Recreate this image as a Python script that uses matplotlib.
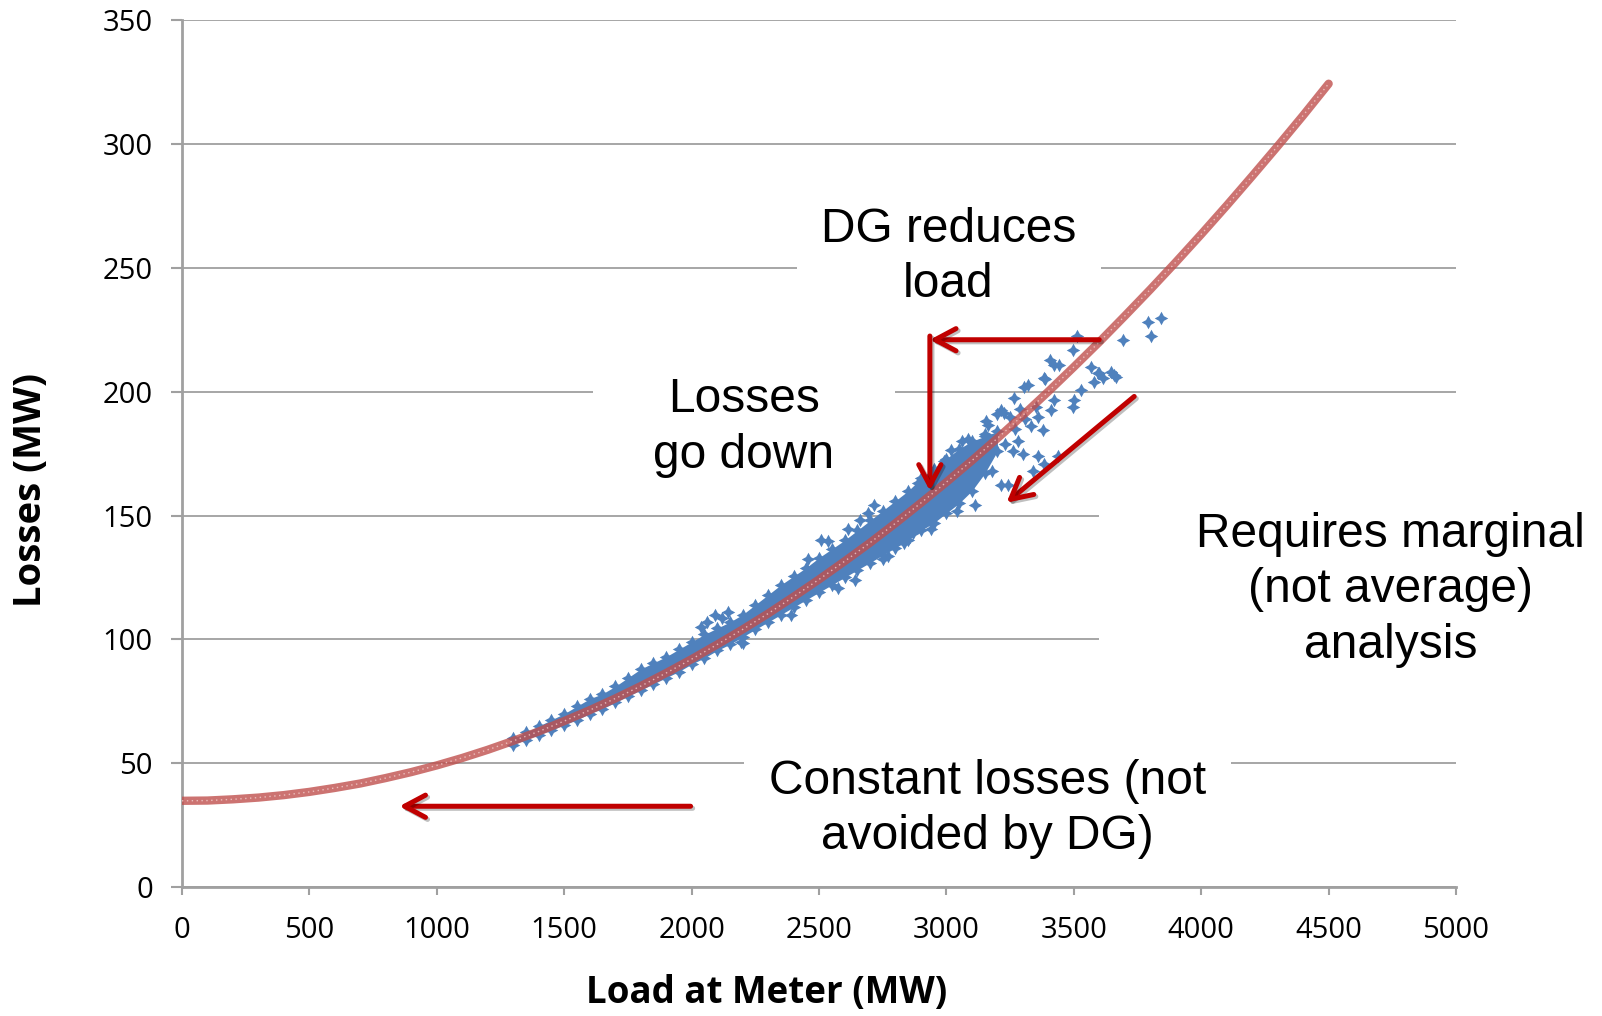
import numpy as np
import matplotlib
matplotlib.use("Agg")
import matplotlib.pyplot as plt
from matplotlib.patches import Rectangle
import matplotlib.patheffects as pe

# ===== DATA =====
# fitted losses curve (red), read every 100 MW
curve_x = [0, 100, 200, 300, 400, 500, 600, 700, 800, 900,
           1000, 1100, 1200, 1300, 1400, 1500, 1600, 1700, 1800, 1900,
           2000, 2100, 2200, 2300, 2400, 2500, 2600, 2700, 2800, 2900,
           3000, 3100, 3200, 3300, 3400, 3500, 3600, 3700, 3800, 3900,
           4000, 4100, 4200, 4300, 4400, 4500]
curve_y = [34.8, 34.9, 35.4, 36.1, 37.1, 38.4, 40.0, 41.8, 44.0, 46.4,
           49.1, 52.1, 55.4, 59.0, 62.8, 67.0, 71.4, 76.1, 81.1, 86.4,
           92.0, 97.9, 104.0, 110.4, 117.2, 124.2, 131.5, 139.0, 146.9, 155.1,
           163.5, 172.2, 181.2, 190.5, 200.1, 210.0, 220.1, 230.6, 241.3, 252.3,
           263.6, 275.2, 287.1, 299.2, 311.6, 324.4]

# dense part of the metered scatter (blue): lower / upper envelope
band_x = [1300, 1350, 1400, 1450, 1500, 1550, 1600, 1650, 1700, 1750, 1800,
          1850, 1900, 1950, 2000, 2050, 2100, 2150, 2200, 2250, 2300, 2350,
          2400, 2450, 2500, 2550, 2600, 2650, 2700, 2750, 2800, 2850, 2900,
          2950, 3000, 3050, 3100, 3150, 3200]
band_lo = [57.5, 59.5, 61.5, 63.3, 65.5, 67.5, 70.0, 72.0, 74.5, 77.0, 79.5,
           82.0, 84.5, 87.0, 90.0, 92.5, 95.5, 98.0, 101.0, 104.0, 107.0, 110.0,
           113.0, 116.0, 119.0, 122.0, 125.0, 128.0, 131.0, 134.0, 137.0, 140.0, 144.0,
           147.0, 151.0, 155.0, 160.0, 167.0, 176.0]
band_hi = [60.0, 62.5, 65.0, 67.5, 70.0, 73.0, 76.0, 78.0, 81.0, 84.5, 88.0,
           90.5, 93.0, 96.0, 99.0, 102.0, 104.5, 107.0, 110.0, 114.0, 118.0, 122.0,
           125.5, 129.0, 133.0, 136.5, 140.0, 144.0, 148.0, 152.0, 156.0, 160.0, 165.0,
           169.0, 173.0, 177.0, 180.0, 182.0, 184.0]

# scattered hours outside the dense band
out_x = [3842, 3790, 3803, 3692, 3513, 3496, 3408, 3443, 3568, 3594, 3613,
         3580, 3659, 3385, 3319, 3528, 3502, 3496, 3267, 3424, 3411, 3358,
         3378, 3332, 3227, 3155, 3437, 3384, 3339, 3214, 3240, 3112, 2940,
         2508, 2534, 2456, 2613, 2691, 2717, 2770, 2750, 2573, 2390, 2200,
         2946, 2835, 2037, 2060, 2090, 2120, 2143, 2194, 3646, 3666, 3600,
         3083, 3018, 3162, 3214, 3305, 3384, 3423, 3358, 3300, 3280,
         3250, 3270, 3290, 3230, 3310, 3350, 3260, 3200, 3180, 3130,
         3060, 3040, 2990, 2890, 2870, 2660, 2640, 3150, 3100]
out_y = [229.7, 228.0, 222.6, 221.0, 222.6, 217.0, 213.0, 211.0, 210.0, 207.5, 205.5,
         204.0, 206.8, 205.0, 202.8, 200.8, 196.8, 194.0, 197.5, 196.8, 192.7, 190.0,
         184.7, 186.0, 191.4, 188.0, 174.0, 171.0, 167.9, 162.5, 162.5, 154.4, 144.4,
         140.3, 139.6, 132.3, 144.4, 151.0, 154.4, 133.6, 132.3, 120.8, 110.0, 98.7,
         147.0, 139.0, 105.0, 107.0, 110.0, 108.5, 111.0, 98.8, 208.0, 206.0, 207.5,
         181.0, 176.6, 186.7, 192.7, 202.0, 205.5, 211.0, 174.0, 175.0, 180.0,
         190.0, 185.0, 193.0, 179.0, 189.0, 194.0, 176.0, 191.0, 168.0, 176.0,
         180.0, 152.0, 172.0, 163.0, 143.0, 148.0, 124.0, 183.0, 166.0]

x_ticks = [0, 500, 1000, 1500, 2000, 2500, 3000, 3500, 4000, 4500, 5000]
y_ticks = [0, 50, 100, 150, 200, 250, 300, 350]

BLUE = "#4F81BD"
RED = "#C0504D"
ARROW = "#C00000"
GRID = "#A6A6A6"

TXT_FONT = ["Liberation Sans", "DejaVu Sans"]
AX_FONT = ["Open Sans", "DejaVu Sans"]

# ===== PLOT =====
fig = plt.figure(figsize=(16.02, 10.16), dpi=100)
ax = fig.add_axes([0.1136, 0.127, 0.7953, 0.853])
ax.set_xlim(0, 5000)
ax.set_ylim(0, 350)

ax.set_axisbelow(True)
ax.yaxis.grid(True, color=GRID, lw=1.4)
for s in ["top", "right"]:
    ax.spines[s].set_visible(False)
for s in ["left", "bottom"]:
    ax.spines[s].set_color("#A0A0A0")
    ax.spines[s].set_linewidth(2)

ax.set_xticks(x_ticks)
ax.set_yticks(y_ticks)
ax.tick_params(axis="y", length=8, width=1.5, color="#A0A0A0", pad=13)
ax.tick_params(axis="x", length=6, width=1.5, color="#A0A0A0", pad=15)
for lab in ax.get_xticklabels() + ax.get_yticklabels():
    lab.set_family(AX_FONT)
    lab.set_fontsize(21)

# white text boxes hide the gridlines behind the annotations
for (x0, x1, y0, y1) in [(2414, 3605, 232, 280), (1612, 2799, 190, 212),
                         (2205, 4118, 40, 60), (3597, 5000, 85, 170)]:
    ax.add_patch(Rectangle((x0, y0), x1 - x0, y1 - y0, fc="white", ec="none", zorder=1))

# metered scatter
star = (4, 1, 0)
ax.fill_between(band_x, band_lo, band_hi, color=BLUE, lw=0, zorder=2)
ax.scatter(band_x, band_lo, marker=star, s=95, color=BLUE, lw=0, zorder=2)
ax.scatter(band_x, band_hi, marker=star, s=95, color=BLUE, lw=0, zorder=2)
ax.scatter(out_x, out_y, marker=star, s=95, color=BLUE, lw=0, zorder=2)

# fitted curve
ax.plot(curve_x, curve_y, color=RED, lw=6, alpha=0.8, solid_capstyle="round", zorder=3)
ax.plot(curve_x, curve_y, color="#F4D0CF", lw=1, ls=(0, (1, 2.5)), alpha=0.8, zorder=3)

# arrows
shadow = [pe.SimpleLineShadow(offset=(1.5, -1.5), alpha=0.25, shadow_color="k"), pe.Normal()]


def arrow(start, tip):
    ax.annotate("", xy=tip, xytext=start,
                arrowprops=dict(arrowstyle="->,head_length=0.75,head_width=0.4",
                                color=ARROW, lw=3.6, shrinkA=0, shrinkB=0,
                                mutation_scale=20, path_effects=shadow),
                zorder=4)


arrow((1996, 32.6), (853, 32.6))
arrow((3600, 221), (2935, 221))
arrow((2935, 222.5), (2935, 160))
arrow((3737, 198.1), (3236, 155.2))

# annotations
kw = dict(family=TXT_FONT, fontsize=34.5, ha="center", va="center",
          linespacing=1.3, zorder=5)
ax.text(3007, 254.5, "DG reduces\nload", **kw)
ax.text(2205, 185.5, "Losses\ngo down", **kw)
ax.text(3162, 31.5, "Constant losses (not\navoided by DG)", **kw)
ax.text(4743, 120.1, "Requires marginal\n(not average)\nanalysis", clip_on=False, **kw)

fig.text(0.4788, 0.0226, "Load at Meter (MW)", family=AX_FONT, fontsize=26.5,
         fontweight="bold", ha="center", va="center")
fig.text(0.0194, 0.5177, "Losses (MW)", family=AX_FONT, fontsize=27.5,
         fontweight="bold", ha="center", va="center", rotation=90)

fig.savefig("out.png", dpi=100)
